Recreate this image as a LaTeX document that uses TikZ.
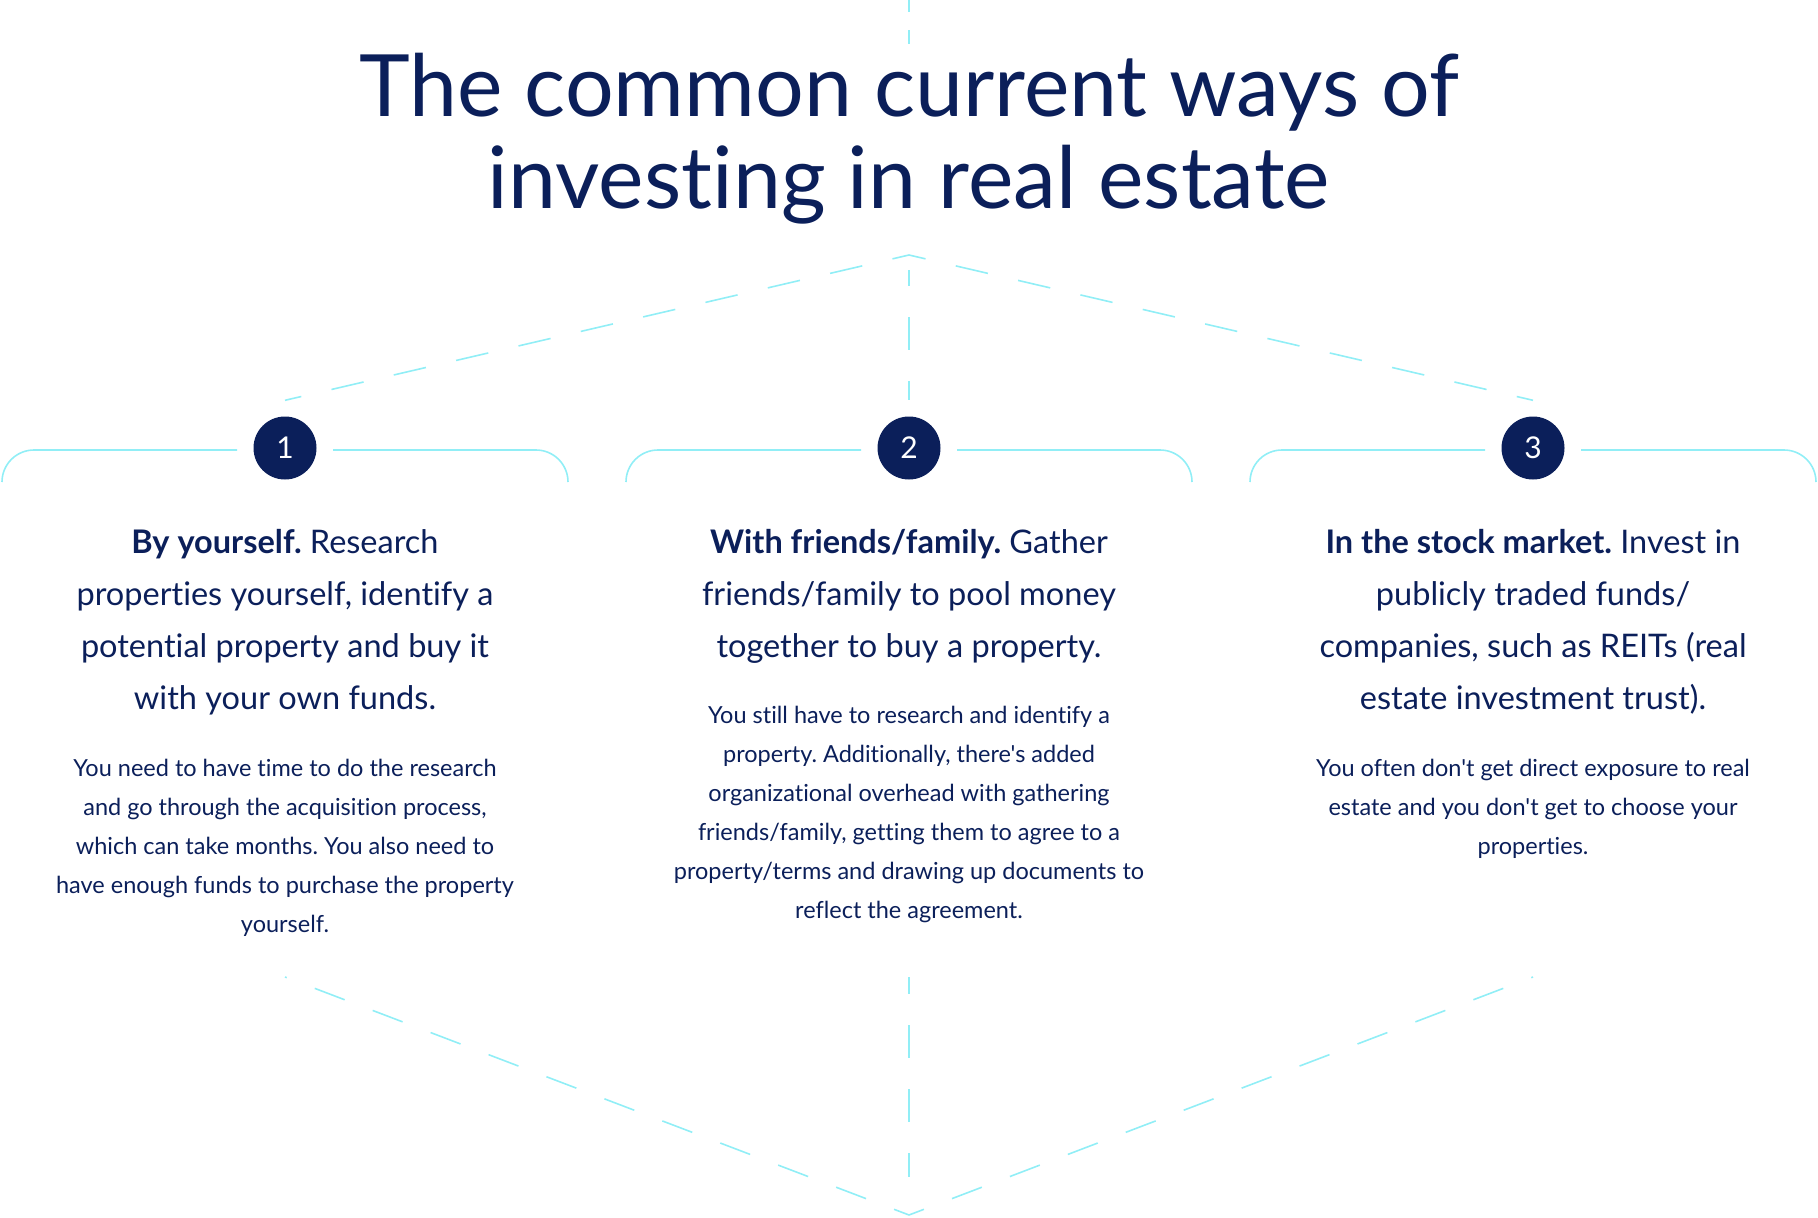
\documentclass[tikz,border=0pt]{standalone}
\usepackage{fontspec}
\setmainfont{Lato}[Ligatures={NoCommon,TeXOff}]
\usetikzlibrary{positioning, calc}
\definecolor{myNavy}{RGB}{11,31,90}
\definecolor{myCyan}{RGB}{145,238,246}
\frenchspacing

\tikzset{
  guide/.style={myCyan, line width=1.6pt, dash pattern=on 33pt off 31pt},
  bracket/.style={myCyan, line width=1.6pt, rounded corners=32pt},
  badge/.style={circle, fill=myNavy, text=white, minimum size=63pt, inner sep=0pt, font=\fontsize{30}{30}\selectfont},
  headtext/.style={anchor=base, align=center, inner sep=0pt, text=myNavy, font=\fontsize{32.5}{52}\selectfont},
  bodytext/.style={anchor=base, align=center, inner sep=0pt, text=myNavy, font=\fontsize{23.5}{39}\selectfont}
}

\begin{document}
\begin{tikzpicture}[x=1pt, y=-1pt]
  \useasboundingbox (0,0) rectangle (1818,1218);
  % Title (base = last line)
  \draw[myCyan, line width=1.6pt, dash pattern=on 12pt off 18pt on 14pt off 100pt] (909,0) -- (909,44);
  \node[anchor=base, align=center, inner sep=0pt, text=myNavy, font=\fontsize{86}{92}\selectfont] (title) at (909,208)
    {The common current ways of\\ investing in real estate};
  % Guide lines
  \coordinate (top) at (909,255);
  \coordinate (bottom) at (909,1215);
  \node[badge] (c1) at (285,448) {1};
  \node[badge] (c2) at (909,448) {2};
  \node[badge] (c3) at (1533,448) {3};
  \draw[guide, dash phase=16pt] (top) -- ([yshift=16pt]c1.north);
  \draw[guide, dash phase=16pt] (top) -- ([yshift=16pt]c3.north);
  \draw[guide, dash phase=17pt] ([yshift=-15pt]top) -- ([yshift=16pt]c2.north);
  % Brackets
  \foreach \cx/\name in {285/c1, 909/c2, 1533/c3} {
    \draw[bracket] (\cx-283,482) -- (\cx-283,450) -- ([xshift=-48pt]\name.center |- 0,450);
    \draw[bracket] ([xshift=48pt]\name.center |- 0,450) -- (\cx+283,450) -- (\cx+283,482);
  }
  % Panel 1
  \node[headtext] (h1) at (285,709) {\textbf{By yourself.} Research\\ properties yourself, identify a\\ potential property and buy it\\ with your own funds.};
  \node[bodytext] (t1) at (285,932) {You need to have time to do the research\\ and go through the acquisition process,\\ which can take months. You also need to\\ have enough funds to purchase the property\\ yourself.};
  % Panel 2
  \node[headtext] (h2) at (909,657) {\textbf{With friends/family.} Gather\\ friends/family to pool money\\ together to buy a property.};
  \node[bodytext] (t2) at (909,918) {You still have to research and identify a\\ property. Additionally, there's added\\ organizational overhead with gathering\\ friends/family, getting them to agree to a\\ property/terms and drawing up documents to\\ reflect the agreement.};
  % Panel 3
  \node[headtext] (h3) at (1533,709) {\textbf{In the stock market.} Invest in\\ publicly traded funds/\\ companies, such as REITs (real\\ estate investment trust).};
  \node[bodytext] (t3) at (1533,854) {You often don't get direct exposure to real\\ estate and you don't get to choose your\\ properties.};
  % Lower guide lines
  \coordinate (b1) at (285,977);
  \coordinate (b2) at (909,977);
  \coordinate (b3) at (1533,977);
  \draw[guide, dash pattern=on 32pt off 30pt, dash phase=16pt] (bottom) -- (b1);
  \draw[guide, dash pattern=on 32pt off 30pt, dash phase=16pt] (bottom) -- (b3);
  \draw[guide, dash phase=16pt] (b2) -- ([yshift=38pt]bottom);
\end{tikzpicture}
\end{document}
